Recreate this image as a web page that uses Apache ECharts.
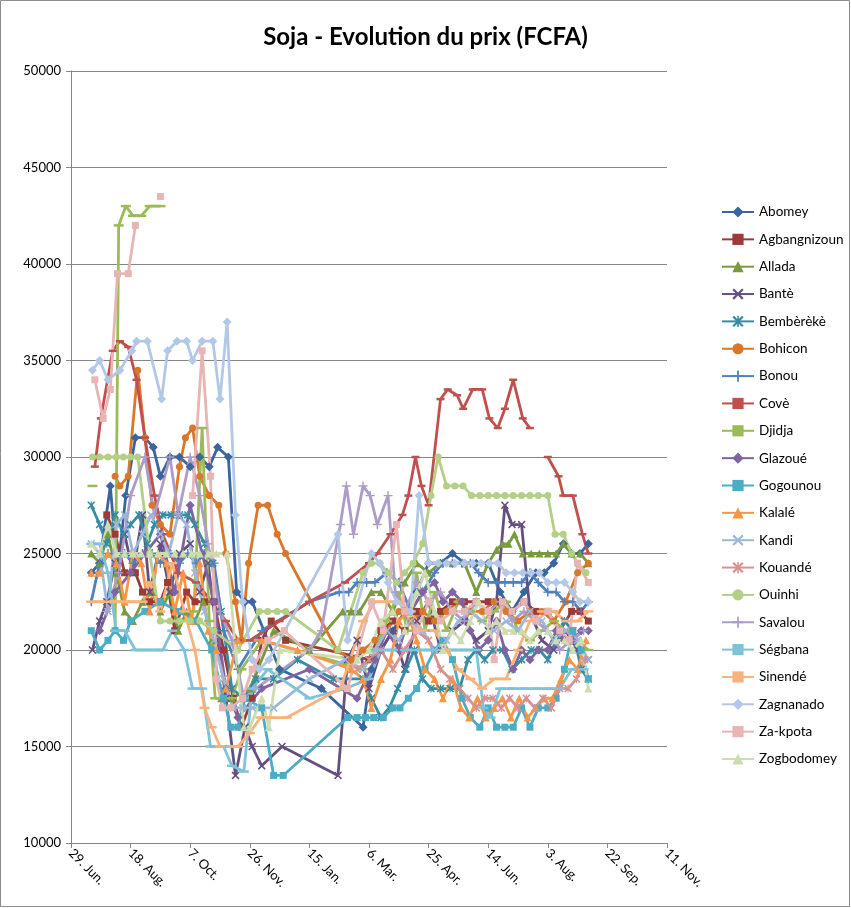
<!DOCTYPE html>
<html><head><meta charset="utf-8">
<script src="https://cdn.jsdelivr.net/npm/echarts@6/dist/echarts.min.js"></script>
<style>html,body{margin:0;padding:0;background:#fff}#c{width:851px;height:908px}</style>
</head><body><div id="c"></div>
<script>
// x values are days counted from 29 June
const tickLabels = ['29. Jun.', '18. Aug.', '7. Oct.', '26. Nov.', '15. Jan.', '6. Mar.', '25. Apr.', '14. Jun.', '3. Aug.', '22. Sep.', '11. Nov.'];
const markets = ['Abomey','Agbangnizoun','Allada','Bantè','Bembèrèkè','Bohicon','Bonou','Covè','Djidja','Glazoué','Gogounou','Kalalé','Kandi','Kouandé','Ouinhi','Savalou','Ségbana','Sinendé','Zagnanado','Za-kpota','Zogbodomey'];

const abomey = [[17,24000],[24,24500],[33,28500],[39,24000],[46,28000],[54,31000],[62,31000],[69,30500],[75,29000],[83,30000],[91,30000],[100,29500],[108,30000],[116,29500],[123,30500],[132,30000],[139,23000],[146,22500],[152,22500],[175,19000],[210,18000],[245,16000],[252,19000],[260,20000],[270,21000],[280,22000],[290,23000],[300,24500],[310,24500],[320,25000],[330,24500],[340,24500],[350,24500],[360,23000],[370,22000],[380,23000],[390,24000],[397,24000],[405,24500],[413,25500],[420,25000],[427,25000],[434,25500]];
const agbangnizoun = [[30,27000],[37,26000],[45,24000],[54,24000],[60,23000],[66,22500],[75,22500],[81,23500],[87,21000],[97,23000],[104,22500],[112,22500],[120,22500],[128,20000],[136,17500],[143,16000],[152,17500],[160,20500],[168,21500],[180,20500],[250,19500],[260,21000],[270,21500],[280,21000],[290,22000],[300,21500],[310,22000],[320,22500],[330,22500],[340,22500],[350,22500],[360,22500],[370,22000],[380,22500],[390,22000],[400,22000],[410,21000],[420,22000],[427,22000],[434,21500]];
const allada = [[17,25000],[24,24500],[31,26000],[38,24000],[45,22000],[52,21500],[60,22500],[68,23000],[75,22000],[83,23000],[90,21000],[97,22000],[104,21500],[111,22500],[118,20500],[126,17500],[135,17500],[150,18000],[170,21000],[200,20000],[228,22000],[235,22000],[242,22000],[252,23000],[260,23000],[270,22000],[280,23500],[290,24500],[300,24000],[310,24500],[320,24500],[330,24500],[340,23000],[350,24500],[357,25200],[362,25500],[367,25500],[372,26000],[379,25000],[386,25000],[393,25000],[400,25000],[407,25000],[413,25500],[420,25000],[427,25000],[434,24500]];
const bante = [[18,20000],[24,21500],[30,22500],[37,24500],[45,26000],[52,24000],[60,27000],[66,23000],[75,25500],[83,23000],[91,25000],[100,25500],[108,23000],[115,24500],[122,21000],[130,17500],[138,13500],[146,16000],[152,15000],[160,14000],[177,15000],[224,13500],[232,19500],[240,20500],[250,18000],[260,20000],[270,21000],[280,19000],[290,21500],[300,22500],[310,20000],[320,21000],[330,21500],[340,20500],[350,21000],[357,22500],[364,27500],[370,26500],[378,26500],[385,22000],[395,20500],[405,20000],[415,21000],[425,20000],[434,19500]];
const bembereke = [[17,27500],[24,26500],[30,25500],[37,27000],[44,26000],[50,26500],[57,27000],[64,25500],[70,26500],[77,27000],[84,27000],[91,27000],[98,27000],[104,26500],[112,25500],[119,24500],[126,22000],[135,18000],[145,17500],[155,18500],[170,18500],[190,19500],[220,18500],[245,18500],[252,17500],[260,16500],[267,17000],[274,18000],[281,19000],[288,20000],[295,18500],[302,18000],[310,18000],[318,18000],[326,18000],[333,19500],[340,20000],[347,19500],[354,20000],[362,20000],[370,19000],[378,19500],[386,20000],[393,20000],[400,19500],[407,20500],[414,21500],[421,21000],[428,19000],[434,18500]];
const bohicon = [[37,29000],[41,28500],[48,29000],[56,34500],[62,31000],[68,27500],[75,26500],[83,26000],[91,29500],[96,31000],[102,31500],[108,29000],[116,28000],[124,27500],[130,25000],[138,22500],[143,20500],[149,24500],[157,27500],[165,27500],[173,26000],[180,25000],[223,20000],[235,19500],[245,20000],[255,20500],[265,21000],[275,22000],[285,21500],[295,22000],[305,21500],[315,22000],[325,22500],[335,22000],[345,22000],[355,22500],[365,22000],[375,21500],[385,22000],[395,22000],[405,21500],[415,22500],[425,24000],[434,24500]];
const bonou = [[17,22500],[24,24500],[31,25000],[38,24500],[45,25000],[52,24500],[60,25000],[68,25000],[75,24500],[83,25000],[91,24500],[98,25000],[105,24500],[112,25000],[120,24500],[128,21000],[140,19000],[160,21000],[200,22500],[225,23000],[233,23000],[240,23500],[248,23500],[255,23500],[265,24000],[275,23500],[285,22000],[295,23000],[305,24000],[312,24500],[320,24500],[328,24500],[335,24500],[342,24000],[350,23500],[357,23500],[364,23500],[371,23500],[378,23500],[385,24000],[392,23500],[400,23000],[407,23000],[414,22500],[421,22500],[428,22000],[434,22500]];
const cove = [[20,29500],[25,32000],[35,35500],[41,36000],[48,35700],[55,34000],[62,31000],[70,28000],[77,26000],[90,24000],[105,23500],[118,22500],[130,21500],[140,20500],[150,20500],[175,21500],[200,22500],[230,23500],[250,24500],[257,25000],[268,26000],[278,27000],[283,28000],[289,30000],[294,28500],[300,27500],[310,33000],[316,33500],[324,33200],[329,32500],[337,33500],[345,33500],[351,32000],[358,31500],[364,32500],[371,34000],[379,32000],[385,31500],[392,null],[400,30000],[409,29000],[413,28000],[421,28000],[429,26000],[434,25000]];
const djidja = [[18,28500],[25,null],[37,21000],[40,42000],[46,43000],[52,42500],[59,42500],[66,43000],[75,43000],[85,null],[103,22000],[110,31500],[116,21500],[121,17500],[128,17500],[135,17500],[143,19000],[160,20500],[245,19000],[255,20000],[265,21500],[275,23000],[282,21000],[290,24000],[297,21000],[305,23000],[315,21000],[325,22500],[335,22000],[345,21500],[355,22000],[365,22500],[375,21000],[385,20500],[395,21000],[405,21500],[415,21000],[425,20500],[434,20000]];
const glazoue = [[24,21000],[37,23000],[50,24000],[62,25000],[75,26000],[87,23000],[100,27500],[110,25000],[120,22500],[130,18000],[140,16500],[160,18000],[200,19000],[240,17500],[255,19500],[265,21000],[275,20000],[285,22000],[295,23000],[305,23500],[312,22500],[320,23000],[328,22500],[335,21000],[342,20000],[350,20500],[357,21500],[364,20000],[371,19000],[378,20000],[385,19500],[392,20000],[400,20000],[407,21000],[414,20500],[421,20500],[428,21000],[434,21000]];
const gogounou = [[17,21000],[24,20000],[31,20500],[37,21000],[44,20500],[50,21500],[62,22000],[75,22500],[90,22000],[105,21500],[118,20000],[128,17500],[134,16000],[140,16000],[146,17500],[160,17000],[170,13500],[178,13500],[232,16500],[240,16500],[247,16500],[254,16500],[262,16500],[270,17000],[276,17000],[283,17500],[290,18000],[297,19000],[305,20000],[312,20500],[320,19500],[328,17500],[335,16500],[343,16000],[350,17000],[357,16000],[364,16000],[371,16000],[378,17000],[385,16000],[392,17000],[400,17000],[407,17500],[414,19000],[421,21000],[428,20000],[434,18500]];
const kalale = [[17,24000],[24,24000],[31,25000],[38,24500],[45,22500],[52,25000],[59,24500],[66,22000],[73,25000],[80,24500],[87,22000],[94,24000],[101,21500],[108,24500],[115,21000],[122,20000],[130,18000],[140,20500],[160,20500],[190,20000],[235,19000],[245,18500],[252,17000],[260,18500],[268,19500],[275,21500],[282,22000],[290,20500],[297,19000],[305,18500],[312,17500],[320,18500],[327,17000],[334,16500],[341,17500],[348,16500],[355,17000],[362,17500],[369,16500],[376,17500],[383,16500],[390,17000],[397,17500],[404,17500],[411,18500],[418,19500],[425,19000],[432,20500]];
const kandi = [[17,25500],[24,25000],[31,22000],[38,26500],[45,27000],[52,25000],[60,26000],[67,27000],[75,26000],[82,25000],[90,27000],[97,26500],[104,24000],[112,22000],[120,20500],[128,18500],[136,17000],[144,17000],[152,17000],[170,17000],[200,18500],[230,19500],[245,19000],[255,20000],[265,21000],[275,20500],[285,21500],[295,21000],[305,20000],[315,20500],[325,21500],[335,22000],[345,21500],[355,21000],[365,21500],[375,21000],[385,22000],[395,21500],[405,20500],[415,21000],[425,20500],[434,19500]];
const kouande = [[240,19000],[250,19500],[260,20000],[270,19000],[280,20000],[290,21000],[300,20500],[310,19000],[318,18500],[326,18000],[333,17500],[340,17000],[347,17500],[354,17500],[361,17000],[368,17500],[375,17000],[382,17500],[389,17000],[396,17500],[403,17000],[410,18000],[417,18000],[424,18500],[431,19500]];
const ouinhi = [[18,30000],[24,30000],[31,30000],[38,30000],[44,30000],[50,30000],[56,30000],[66,25000],[75,21500],[83,21500],[91,21500],[100,21500],[108,21500],[120,21000],[140,20000],[158,22000],[165,22000],[173,22000],[180,22000],[224,20000],[245,24000],[252,24500],[259,24500],[266,24000],[273,23500],[280,24000],[287,24500],[295,25500],[302,28000],[308,30000],[315,28500],[322,28500],[329,28500],[336,28000],[343,28000],[350,28000],[357,28000],[364,28000],[371,28000],[378,28000],[385,28000],[392,28000],[400,28000],[406,26000],[413,26000],[420,25000],[425,24500],[432,24000]];
const savalou = [[30,22000],[40,24000],[50,28000],[62,30000],[70,27000],[83,30000],[90,27000],[100,30000],[108,28000],[115,25500],[125,22000],[135,20500],[145,17500],[155,18000],[200,20000],[210,21000],[226,26500],[231,28500],[237,26000],[245,28500],[251,28000],[257,26500],[266,28000],[272,23000],[280,22000],[290,23500],[300,22500],[310,23000],[320,22000],[330,21500],[340,22500],[350,22000],[360,22500],[370,21500],[380,22000],[390,21500],[400,21000],[410,20000],[420,20500],[430,21000]];
const segbana = [[17,25500],[24,25500],[31,24000],[38,21000],[45,21000],[54,20000],[62,20000],[70,20000],[77,20000],[85,21000],[95,20000],[102,18000],[110,18000],[117,15000],[128,15000],[135,14000],[145,13700],[152,18000],[165,19000],[200,17500],[230,18000],[250,18500],[260,20000],[270,20000],[280,20000],[290,20000],[300,20000],[310,20000],[320,20000],[330,20000],[340,20000],[346,17000],[352,16500],[360,18000],[370,18000],[380,18000],[390,18000],[400,18000],[410,18000],[420,19000],[430,19000]];
const sinende = [[17,22500],[24,22500],[31,22500],[38,22500],[45,22500],[52,22500],[60,22500],[66,23500],[75,22000],[85,24500],[95,22000],[104,20000],[112,17000],[118,16000],[125,15000],[140,15000],[150,15700],[159,16500],[167,16500],[181,16500],[226,18000],[245,21500],[255,22500],[265,22500],[275,22500],[285,22000],[295,21000],[305,21000],[315,20000],[325,19000],[335,18500],[345,18000],[355,18500],[365,18500],[375,20000],[385,21500],[395,22000],[405,22000],[415,21500],[425,21500],[434,22000]];
const zagnanado = [[18,34500],[24,35000],[31,34000],[41,34500],[51,35500],[55,36000],[64,36000],[76,33000],[81,35500],[89,36000],[97,36000],[102,35000],[110,36000],[119,36000],[125,33000],[131,37000],[138,27000],[144,22500],[152,19500],[158,19000],[166,19500],[224,26000],[232,20500],[252,25000],[259,24500],[266,23500],[273,22500],[285,22000],[292,28000],[300,24500],[308,24500],[315,24500],[322,24500],[330,24500],[337,24500],[344,24500],[351,24500],[358,24500],[365,24000],[372,24000],[379,24000],[386,24000],[393,24000],[400,23500],[407,23500],[414,23500],[421,23000],[427,22500],[434,22500]];
const zakpota = [[20,34000],[27,32000],[33,33500],[39,39500],[48,39500],[54,42000],[62,null],[75,43500],[85,null],[102,28000],[110,35500],[117,29000],[122,18500],[127,17000],[134,17000],[144,17500],[152,19000],[165,20500],[179,21000],[232,18000],[252,22500],[262,21000],[273,26500],[280,22000],[290,21000],[300,22500],[310,21500],[320,22000],[330,22000],[340,22500],[350,22000],[355,19500],[362,22500],[370,22000],[380,22500],[390,21500],[400,22000],[410,21000],[418,20500],[425,24500],[434,23500]];
const zogbodomey = [[17,25500],[24,25000],[31,26500],[38,25000],[45,25000],[52,25000],[59,25000],[66,25000],[73,25000],[80,25000],[87,25000],[94,25000],[101,25000],[108,25000],[115,25000],[122,25000],[131,25000],[138,20000],[145,16000],[150,16000],[160,17500],[166,16000],[175,20000],[240,19500],[250,20000],[260,21500],[270,22000],[280,21000],[290,23000],[297,24000],[305,22000],[312,20000],[320,21000],[327,20500],[335,21500],[342,22500],[350,21000],[357,21500],[364,21000],[371,21000],[378,21000],[385,20500],[392,21000],[400,21000],[407,20500],[414,20500],[421,20000],[428,20500],[434,18000]];

const seriesData = [abomey,agbangnizoun,allada,bante,bembereke,bohicon,bonou,cove,djidja,glazoue,gogounou,kalale,kandi,kouande,ouinhi,savalou,segbana,sinende,zagnanado,zakpota,zogbodomey];
const colors = ['#3A659F','#9B3B38','#7A9A3F','#654E82','#358CA4','#D9772A','#4F81BD','#C0504D','#9BBB59','#8064A2','#4BACC6','#F79646','#9DB8DB','#D9918F','#B4CF86','#AE9CC8','#7EC3D8','#F9B27A','#B3C8E6','#E6B5B4','#CDDDB0'];

const X = 'path://M0,1.4L1.4,0L5,3.6L8.6,0L10,1.4L6.4,5L10,8.6L8.6,10L5,6.4L1.4,10L0,8.6L3.6,5Z';
const STAR = 'path://M0,1.4L1.4,0L5,3.6L8.6,0L10,1.4L6.4,5L10,8.6L8.6,10L5,6.4L1.4,10L0,8.6L3.6,5Z M4.3,0H5.7V10H4.3Z';
const PLUS = 'path://M4.2,0H5.8V4.2H10V5.8H5.8V10H4.2V5.8H0V4.2H4.2Z';
const symbols = [
  ['diamond',9],['rect',7],['triangle',8],[X,8],[STAR,8],['circle',7],[PLUS,9],['rect',[8,2.5]],['rect',[10,2.5]],
  ['diamond',9],['rect',7],['triangle',8],[X,8],[STAR,8],['circle',7],[PLUS,9],['rect',[10,2.5]],['rect',[10,2.5]],
  ['diamond',9],['rect',7],['triangle',8]
];

const chart = echarts.init(document.getElementById('c'), null, {renderer:'canvas'});
const font = 'Lato, "Open Sans", sans-serif';
const series = markets.map((name, i) => ({
  name, type: 'line',
  data: seriesData[i].map(p => [p[0], p[1] === null ? '-' : p[1]]),
  connectNulls: false,
  showAllSymbol: true,
  symbol: symbols[i][0], symbolSize: symbols[i][1],
  itemStyle: {color: colors[i], borderWidth: 0},
  lineStyle: {color: colors[i], width: 2.8},
  emphasis: {disabled: true},
  animation: false
}));

chart.setOption({
  animation: false,
  color: colors,
  title: {
    text: 'Soja - Evolution du prix (FCFA)', left: 'center', top: 20,
    padding: [5,5,5,21],
    textStyle: {fontFamily: font, fontSize: 24, fontWeight: 'bold', color: '#000'}
  },
  grid: {left: 71, right: 184, top: 71, bottom: 65, containLabel: false},
  legend: {
    orient: 'vertical', left: 716, top: 200, itemWidth: 32, itemHeight: 14, itemGap: 13.35,
    textStyle: {fontFamily: font, fontSize: 13.5, color: '#000'},
    data: markets
  },
  xAxis: {
    type: 'value', min: 0, max: 500, interval: 50,
    axisLine: {lineStyle: {color: '#868686', width: 1}},
    axisTick: {show: true, length: 5, lineStyle: {color: '#868686'}},
    splitLine: {show: false},
    axisLabel: {rotate: -45, margin: 8, fontFamily: font, fontSize: 13, color: '#000',
      formatter: v => tickLabels[Math.round(v / 50)] || ''}
  },
  yAxis: {
    type: 'value', min: 10000, max: 50000, interval: 5000,
    axisLine: {show: true, lineStyle: {color: '#868686', width: 1}},
    axisTick: {show: true, length: 5, lineStyle: {color: '#868686'}},
    splitLine: {show: true, lineStyle: {color: '#868686', width: 1}},
    axisLabel: {margin: 10, fontFamily: font, fontSize: 13, color: '#000', formatter: v => String(v)}
  },
  graphic: [{type: 'rect', shape: {x: 0.5, y: 0.5, width: 849, height: 906}, style: {fill: 'none', stroke: '#8c8c8c', lineWidth: 1}, silent: true, z: -10}],
  series
});
</script></body></html>
